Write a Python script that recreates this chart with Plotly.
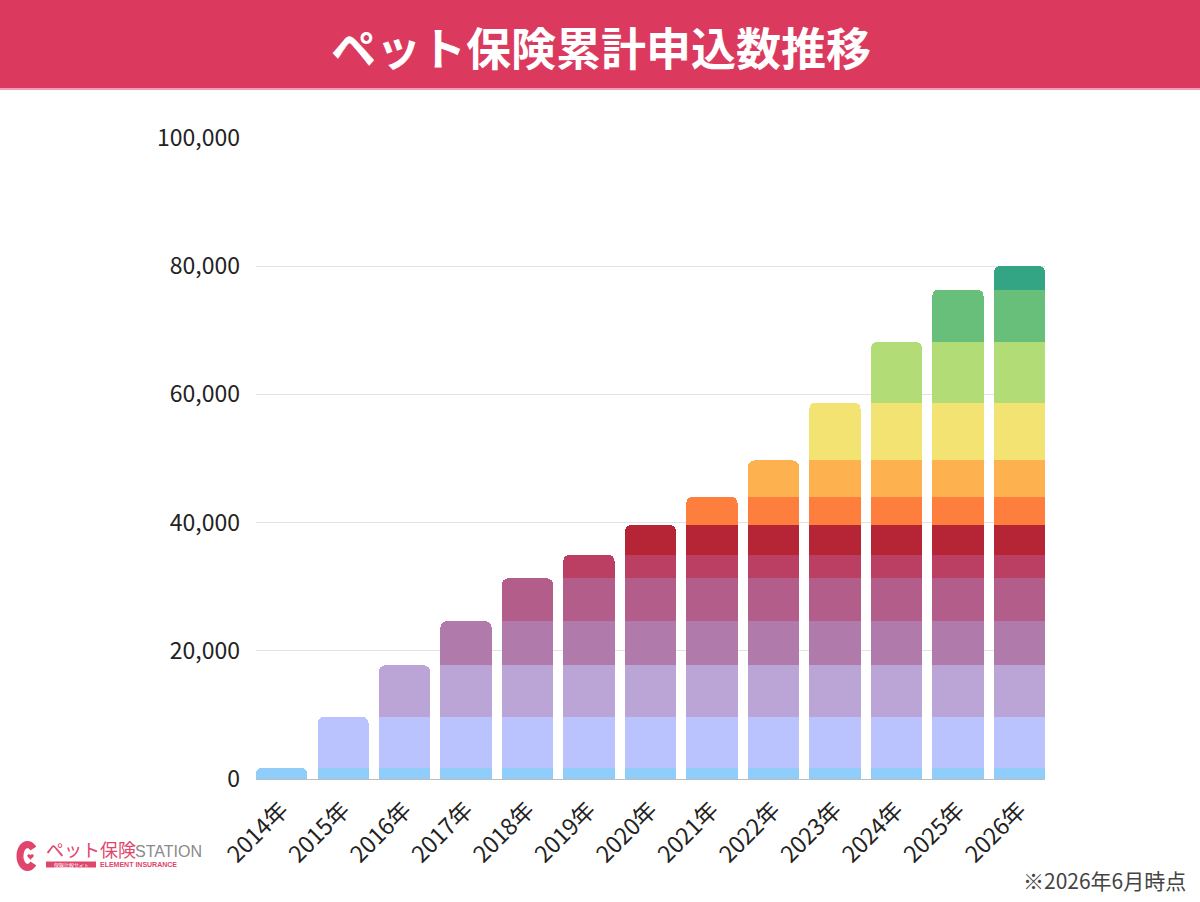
import math
import plotly.graph_objects as go

# ---- data ----
years = ["2014年", "2015年", "2016年", "2017年", "2018年", "2019年", "2020年",
         "2021年", "2022年", "2023年", "2024年", "2025年", "2026年"]
# new applications added in each year (cumulative stacks)
yearly_new = [1760, 7910, 8060, 6890, 6680, 3700, 4630, 4410, 5650, 9030, 9440, 8190, 3680]
colors = ["#90cdfb", "#bac3fd", "#bba4d6", "#b07bab", "#b35e8a", "#bb3f63", "#b52536",
          "#fe7f3d", "#feb24f", "#f2e372", "#b2dc76", "#68bf7a", "#34a584"]
y_ticks = [0, 20000, 40000, 60000, 80000, 100000]

FONT = "Noto Sans CJK JP"
PINK = "#e0456b"

# plot area in pixels
L, R, T, B = 256, 1045, 138, 779
W, H = R - L, B - T


def px(x):
    return (x - L) / W


def py(y):
    return (B - y) / H


def pix_path(points, close=False):
    s = "M " + " L ".join(f"{px(a):.5f},{py(b):.5f}" for a, b in points)
    return s + (" Z" if close else "")


fig = go.Figure()
for i, name in enumerate(years):
    yvals = [yearly_new[i] if j >= i else None for j in range(len(years))]
    fig.add_trace(go.Bar(
        x=years, y=yvals, name=name,
        marker=dict(color=colors[i], line=dict(width=0)),
        hovertemplate="%{x}: %{y:,}<extra>" + name + "</extra>",
    ))

# logo "C" arc
cx, cy, rx, ry = 27.5, 856, 7.5, 11.5
arc = [(cx + rx * math.cos(math.radians(a)), cy - ry * math.sin(math.radians(a)))
       for a in range(40, 321, 10)]
# small heart
hx, hy, hs = 30.5, 856.5, 3.2
heart = []
for k in range(0, 361, 15):
    t = math.radians(k)
    xh = 16 * math.sin(t) ** 3
    yh = 13 * math.cos(t) - 5 * math.cos(2 * t) - 2 * math.cos(3 * t) - math.cos(4 * t)
    heart.append((hx + xh * hs / 16, hy - yh * hs / 16))

shapes = [
    dict(type="rect", xref="paper", yref="paper",
         x0=-0.5, x1=1.5, y0=py(88), y1=1.4,
         fillcolor="#db3a5e", line=dict(width=0), layer="below"),
    dict(type="rect", xref="paper", yref="paper",
         x0=-0.5, x1=1.5, y0=py(90), y1=py(88),
         fillcolor="#f0a0b4", line=dict(width=0), layer="below"),
    dict(type="path", xref="paper", yref="paper", path=pix_path(arc),
         line=dict(color=PINK, width=7)),
    dict(type="path", xref="paper", yref="paper", path=pix_path(heart, close=True),
         fillcolor=PINK, line=dict(width=0)),
    # logo small pink label
    dict(type="rect", xref="paper", yref="paper",
         x0=px(46), x1=px(96), y0=py(867.5), y1=py(861.5),
         fillcolor=PINK, line=dict(width=0)),
]

annotations = [
    dict(text="<b>ペット保険累計申込数推移</b>", x=px(601), y=py(46),
         xref="paper", yref="paper", xanchor="center", yanchor="middle",
         showarrow=False, font=dict(family=FONT, size=45, color="#ffffff")),
    dict(text="※2026年6月時点", x=px(1188), y=py(880),
         xref="paper", yref="paper", xanchor="right", yanchor="middle",
         showarrow=False, font=dict(family=FONT, size=21, color="#444444")),
    dict(text="ペット保険", x=px(44), y=py(849),
         xref="paper", yref="paper", xanchor="left", yanchor="middle",
         showarrow=False, font=dict(family=FONT, size=18, color=PINK)),
    dict(text="STATION", x=px(133), y=py(851),
         xref="paper", yref="paper", xanchor="left", yanchor="middle",
         showarrow=False, font=dict(family="Liberation Sans", size=16, color="#8a8a8a")),
    dict(text="保険比較サイト", x=px(71), y=py(864.5),
         xref="paper", yref="paper", xanchor="center", yanchor="middle",
         showarrow=False, font=dict(family=FONT, size=5, color="#ffffff")),
    dict(text="<b>ELEMENT INSURANCE</b>", x=px(98), y=py(864.5),
         xref="paper", yref="paper", xanchor="left", yanchor="middle",
         showarrow=False, font=dict(family="Liberation Sans", size=7, color=PINK)),
]

fig.update_layout(
    width=1200, height=902,
    margin=dict(l=L, r=1200 - R, t=T, b=902 - B, pad=0),
    paper_bgcolor="#ffffff", plot_bgcolor="#ffffff",
    barmode="stack", bargap=0.17, barcornerradius=6,
    showlegend=False,
    font=dict(family=FONT, color="#222222"),
    shapes=shapes, annotations=annotations,
    xaxis=dict(
        type="category", range=[-0.415, 12.415],
        tickangle=-45, tickfont=dict(family=FONT, size=23, color="#222222"),
        showgrid=False, zeroline=False, showline=False, ticks="",
        ticklabelstandoff=12,
    ),
    yaxis=dict(
        range=[0, 100000], tickvals=y_ticks,
        ticktext=[f"{v:,}" for v in y_ticks],
        tickfont=dict(family=FONT, size=23, color="#222222"),
        showgrid=True, gridcolor="#e3e3e3", gridwidth=1,
        zeroline=True, zerolinecolor="#bdbdbd", zerolinewidth=1,
        showline=False, ticks="", ticklabelstandoff=15,
    ),
)

fig.write_html("out.html")
